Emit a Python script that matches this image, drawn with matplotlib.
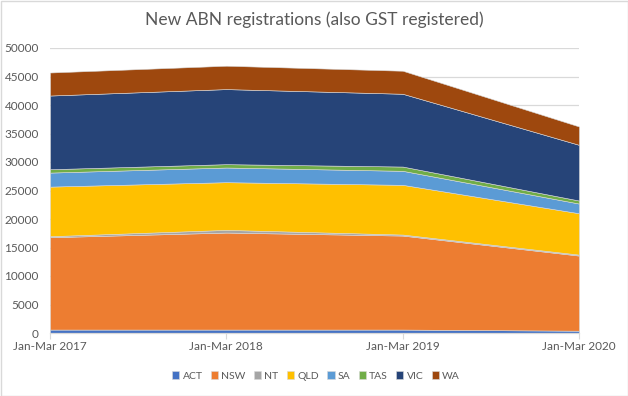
import matplotlib
matplotlib.use("Agg")
import matplotlib.pyplot as plt
from matplotlib.patches import Rectangle

categories = ["Jan-Mar 2017", "Jan-Mar 2018", "Jan-Mar 2019", "Jan-Mar 2020"]
ACT = [600, 600, 600, 400]
NSW = [16200, 17020, 16490, 13180]
NT = [180, 470, 180, 170]
QLD = [8700, 8370, 8720, 7260]
SA = [2460, 2570, 2460, 1700]
TAS = [590, 590, 750, 530]
VIC = [12930, 13170, 12770, 9770]
WA = [4040, 4100, 4040, 3220]
series_names = ["ACT", "NSW", "NT", "QLD", "SA", "TAS", "VIC", "WA"]
colors = ["#4472C4", "#ED7D31", "#A5A5A5", "#FFC000", "#5B9BD5", "#70AD47", "#264478", "#9E480E"]
yticks = list(range(0, 50001, 5000))

plt.rcParams['font.family'] = ['Lato', 'DejaVu Sans']

fig = plt.figure(figsize=(6.28, 3.96), dpi=100)
ax = fig.add_axes([50/628, 1-333/396, (579-50)/628, (333-48)/396])

x = list(range(len(categories)))
ax.stackplot(x, ACT, NSW, NT, QLD, SA, TAS, VIC, WA, colors=colors,
             labels=series_names, edgecolor="#d9d9d9", linewidth=0.4, zorder=2)

ax.set_xlim(0, len(categories)-1)
ax.set_ylim(0, 50000)
ax.set_yticks(yticks)
ax.set_yticklabels([str(v) for v in yticks])
ax.set_xticks(x)
ax.set_xticklabels(categories)
ax.yaxis.grid(True, color="#d9d9d9", linewidth=0.9, zorder=0)
ax.set_axisbelow(True)
for s in ["top", "right", "left"]:
    ax.spines[s].set_visible(False)
ax.spines["bottom"].set_color("#d9d9d9")
ax.spines["bottom"].set_linewidth(0.9)
ax.spines["bottom"].set_zorder(3)
ax.tick_params(axis="y", length=0, labelsize=8.5, labelcolor="#595959", pad=8)
ax.tick_params(axis="x", length=4, color="#d9d9d9", labelsize=8.5, labelcolor="#595959", pad=2)

fig.text(0.5, 1-20/396, "New ABN registrations (also GST registered)", ha="center", va="center",
         fontsize=12.5, color="#595959")

handles, labels = ax.get_legend_handles_labels()
leg = fig.legend(handles, labels, loc="center", bbox_to_anchor=(316/628, 1-376/396), ncol=8,
                 frameon=False, fontsize=7.5, handlelength=0.7, handleheight=0.7,
                 handletextpad=0.3, columnspacing=0.8, labelcolor="#595959")

fig.patches.append(Rectangle((0.5/628, 0.5/396), 1-1/628, 1-1/396, transform=fig.transFigure,
                             fill=False, edgecolor="#d9d9d9", linewidth=1))

fig.savefig("out.png", dpi=100)
